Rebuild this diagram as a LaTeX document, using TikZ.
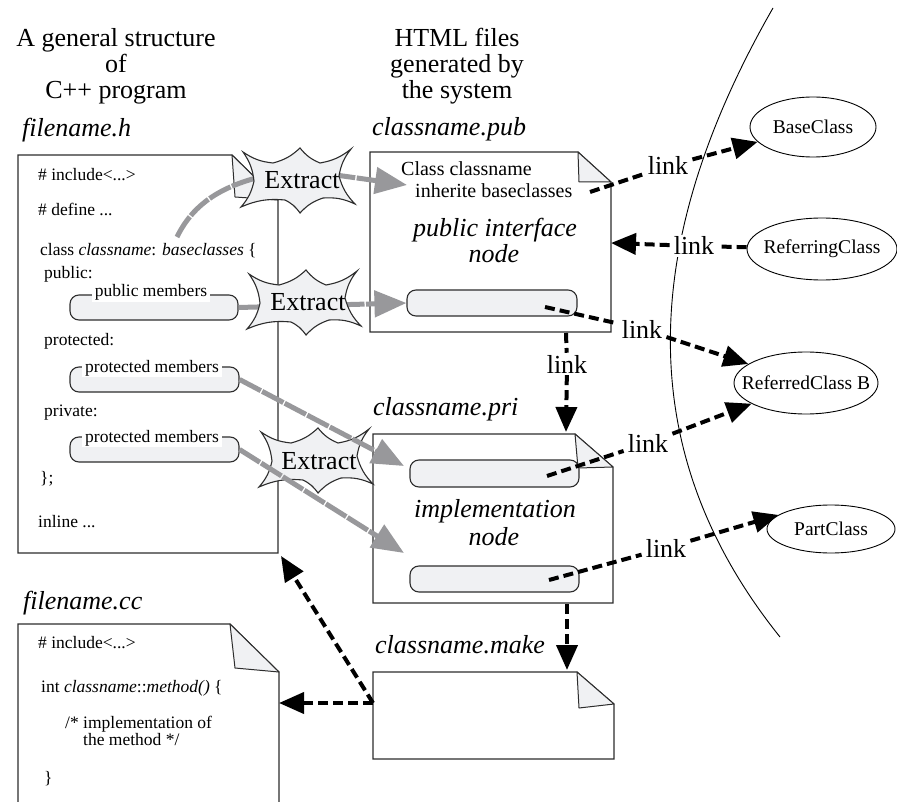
\documentclass[tikz,border=0pt]{standalone}
\usepackage{fontspec}
\setmainfont{Liberation Serif}
\usetikzlibrary{arrows.meta,shapes.geometric}
\definecolor{lfill}{RGB}{240,241,243}
\definecolor{garrow}{RGB}{152,152,155}
\definecolor{dline}{RGB}{45,45,45}
\newcommand\fcode{\fontsize{17.5}{20}\selectfont}
\newcommand\fpubt{\fontsize{20}{22}\selectfont}
\newcommand\fbigt{\fontsize{26}{28}\selectfont}
\newcommand\fell{\fontsize{19.5}{22}\selectfont}
\newcommand\burstat[1]{\draw[burstst, shift={#1}] (-57,-29) to[bend right=14] (-27,-18) to[bend right=14] (0,-33) to[bend right=14] (20,-18) to[bend right=14] (51,-32) to[bend right=14] (39,-5) to[bend right=14] (55,23) to[bend right=14] (23,17) to[bend right=14] (0,32) to[bend right=14] (-15,19) to[bend right=14] (-59,26) to[bend right=14] (-46,0) to[bend right=14] (-57,-29) -- cycle;}
\begin{document}
\begin{tikzpicture}[x=1pt,y=-1pt,
 doc/.style={draw=dline, line width=1.1pt, fill=white},
 flapst/.style={draw=dline, line width=1pt, fill=lfill, line join=round},
 membox/.style={draw=dline, line width=1.1pt, fill=lfill, rounded corners=9pt, rectangle, inner sep=0},
 memlabel/.style={fill=white, inner xsep=3pt, inner ysep=1pt, anchor=base, font=\fcode},
 code/.style={anchor=base west, inner sep=0, font=\fcode},
 pubtxt/.style={anchor=base west, inner sep=0, font=\fpubt},
 big/.style={font=\fbigt, inner sep=0, anchor=base},
 bigit/.style={font=\fbigt\itshape, inner sep=0, anchor=base west},
 bigitc/.style={font=\fbigt\itshape, inner sep=0, anchor=base},
 cls/.style={ellipse, draw=black, line width=0.9pt, fill=white, font=\fell, inner sep=0},
 grayarrow/.style={draw=garrow, line width=5pt, dash pattern=on 24pt off 1.5pt, -{Triangle[length=32pt,width=26pt]}},
 linkline/.style={draw=black, line width=4pt, dash pattern=on 10pt off 5pt},
 linkarrow/.style={linkline, -{Triangle[length=25pt,width=21pt]}},
 linklabel/.style={fill=white, font=\fbigt, inner xsep=4pt, inner ysep=2pt, anchor=base},
 burstst/.style={draw=dline, line width=1.1pt, fill=lfill, line join=miter},
 extr/.style={font=\fbigt, inner sep=0, anchor=base}]
\useasboundingbox (0,0) rectangle (897,802);
\clip (0,0) rectangle (897,802);

% titles
\node[big] (t1a) at (116,47) {A general structure};
\node[big] (t1b) at (116,73) {of};
\node[big] (t1c) at (116,99) {C++ program};
\node[big] (t2a) at (457,47) {HTML files};
\node[big] (t2b) at (457,73) {generated by};
\node[big] (t2c) at (457,99) {the system};

% file labels
\node[bigit] (lh) at (22,137) {filename.h};
\node[bigit] (lpub) at (372,136) {classname.pub};
\node[bigit] (lpri) at (373,415) {classname.pri};
\node[bigit] (lmake) at (375,653) {classname.make};
\node[bigit] (lcc) at (23,609) {filename.cc};

% documents
\draw[doc] (18,155) -- (232,155) -- (278,200) -- (278,553) -- (18,553) -- cycle;
\draw[flapst] (232,155) -- (235,197) -- (278,200) -- cycle;
\draw[doc] (18,624) -- (230,624) -- (279,672) -- (279,812) -- (18,812) -- cycle;
\draw[flapst] (230,624) -- (235,668) -- (279,672) -- cycle;
\draw[doc] (370,152) -- (578,152) -- (611,182) -- (611,332) -- (370,332) -- cycle;
\draw[flapst] (578,152) -- (579,182) -- (611,182) -- cycle;
\draw[doc] (373,434) -- (575,434) -- (613,467) -- (613,603) -- (373,603) -- cycle;
\draw[flapst] (575,434) -- (578,468) -- (613,467) -- cycle;
\draw[doc] (373,672) -- (577,672) -- (614,704) -- (614,759) -- (373,759) -- cycle;
\draw[flapst] (577,672) -- (579,708) -- (614,704) -- cycle;

% connector end points
\coordinate (hBR) at (281,556);
\coordinate (ccR) at (279,703);
\coordinate (pubtxtL) at (407,185);
\coordinate (pubtxtR) at (590,192);
\coordinate (pubR) at (611,243);
\coordinate (pubB) at (566,333);
\coordinate (priT) at (566,432);
\coordinate (priB) at (567,604);
\coordinate (makeT) at (567,670);
\coordinate (makeL) at (373,703);
\coordinate (pri1in) at (404,466);
\coordinate (pri2in) at (404,553);
\coordinate (curvestart) at (177,237);

% filename.h text
\node[code] (h1) at (38,181) {\# include<...>};
\node[code] (h2) at (38,216) {\# define ...};
\node[code] (h3) at (40,256) {class \textit{classname}: \textit{baseclasses} \{};
\node[code] (h4) at (44,279) {public:};
\node[code] (h5) at (44,345) {protected:};
\node[code] (h6) at (44,416) {private:};
\node[code] (h7) at (40,483) {\};};
\node[code] (h8) at (38,527) {inline ...};

% filename.cc text
\node[code] (c1) at (38,648) {\# include<...>};
\node[code] (c2) at (41,692) {int \textit{classname}::\textit{method()} \{};
\node[code] (c3) at (65,728) {/* implementation of};
\node[code] (c4) at (83,745) {the method */};
\node[code] (c5) at (44,783) {\}};

% member boxes
\node[membox, minimum width=168pt, minimum height=25pt] (pubm) at (154,307.5) {};
\node[memlabel] (pubml) at (151,297) {public members};
\node[membox, minimum width=169pt, minimum height=25pt] (protm) at (154.5,379.5) {};
\node[memlabel] (protml) at (152,372) {protected members};
\node[membox, minimum width=169pt, minimum height=25pt] (privm) at (154.5,449.5) {};
\node[memlabel] (privml) at (152,442) {protected members};

% pub text
\node[pubtxt] (p1) at (401,176) {Class classname};
\node[pubtxt] (p2) at (415,198) {inherite baseclasses};
\node[bigitc] (p3) at (495,237) {public interface};
\node[bigitc] (p4) at (494,263) {node};
\node[membox, minimum width=170pt, minimum height=26pt] (pubbox) at (492,303) {};

% pri text
\node[membox, minimum width=169pt, minimum height=27pt] (pri1) at (494.5,473.5) {};
\node[bigitc] (r1) at (495,517) {implementation};
\node[bigitc] (r2) at (494,545) {node};
\node[membox, minimum width=169pt, minimum height=26pt] (pri2) at (494.5,579) {};

% gray extract arrows (behind first two bursts)
\draw[grayarrow] (curvestart) .. controls (195,200) and (230,178) .. (300,170) -- (pubtxtL);
\draw[grayarrow] (pubm.east) -- (pubbox.west);
\burstat{(300,181)}
\node[extr] (ex1) at (302,189) {Extract};
\burstat{(306,303)}
\node[extr] (ex2) at (308,311) {Extract};
\burstat{(318,461)}
\node[extr] (ex3) at (319,469) {Extract};
\draw[grayarrow] (protm.east) -- (pri1in);
\draw[grayarrow] (privm.east) -- (pri2in);

% boundary arc
\draw[line width=0.9pt] (773,8) .. controls (640,240) and (630,450) .. (780,637);

% link labels
\node[linklabel] (L1) at (668,175) {link};
\node[linklabel] (L2) at (694,255) {link};
\node[linklabel] (L3) at (642,338) {link};
\node[linklabel] (L4) at (648,452) {link};
\node[linklabel] (L5) at (666,557) {link};
\node[linklabel] (L6) at (567,373) {link};

% class ellipses
\node[cls, minimum width=126pt, minimum height=60pt] (base) at (813,127) {\makebox[0pt]{BaseClass}};
\node[cls, minimum width=150pt, minimum height=62pt] (refg) at (822,249) {\makebox[0pt]{ReferringClass}};
\node[cls, minimum width=144pt, minimum height=62pt] (refd) at (806,383) {\makebox[0pt]{ReferredClass B}};
\node[cls, minimum width=128pt, minimum height=48pt] (part) at (831,529) {\makebox[0pt]{PartClass}};

% link connectors
\coordinate (src3) at (545,307);
\coordinate (src4) at (547,476);
\coordinate (src5) at (549,580);
\draw[linkline] (pubtxtR) -- (L1);
\draw[linkarrow] (L1) -- (base);
\draw[linkline] (refg) -- (L2);
\draw[linkarrow] (L2) -- (pubR);
\draw[linkline] (src3) -- (L3);
\draw[linkarrow] (L3) -- (refd);
\draw[linkline] (src4) -- (L4);
\draw[linkarrow] (L4) -- (refd);
\draw[linkline] (src5) -- (L5);
\draw[linkarrow] (L5) -- (part.165);
\draw[linkline] (pubB) -- (L6);
\draw[linkarrow] (L6) -- (priT);
\draw[linkarrow] (priB) -- (makeT);
\draw[linkarrow] (makeL) -- (ccR);
\draw[linkarrow] (makeL) -- (hBR);
\end{tikzpicture}
\end{document}
